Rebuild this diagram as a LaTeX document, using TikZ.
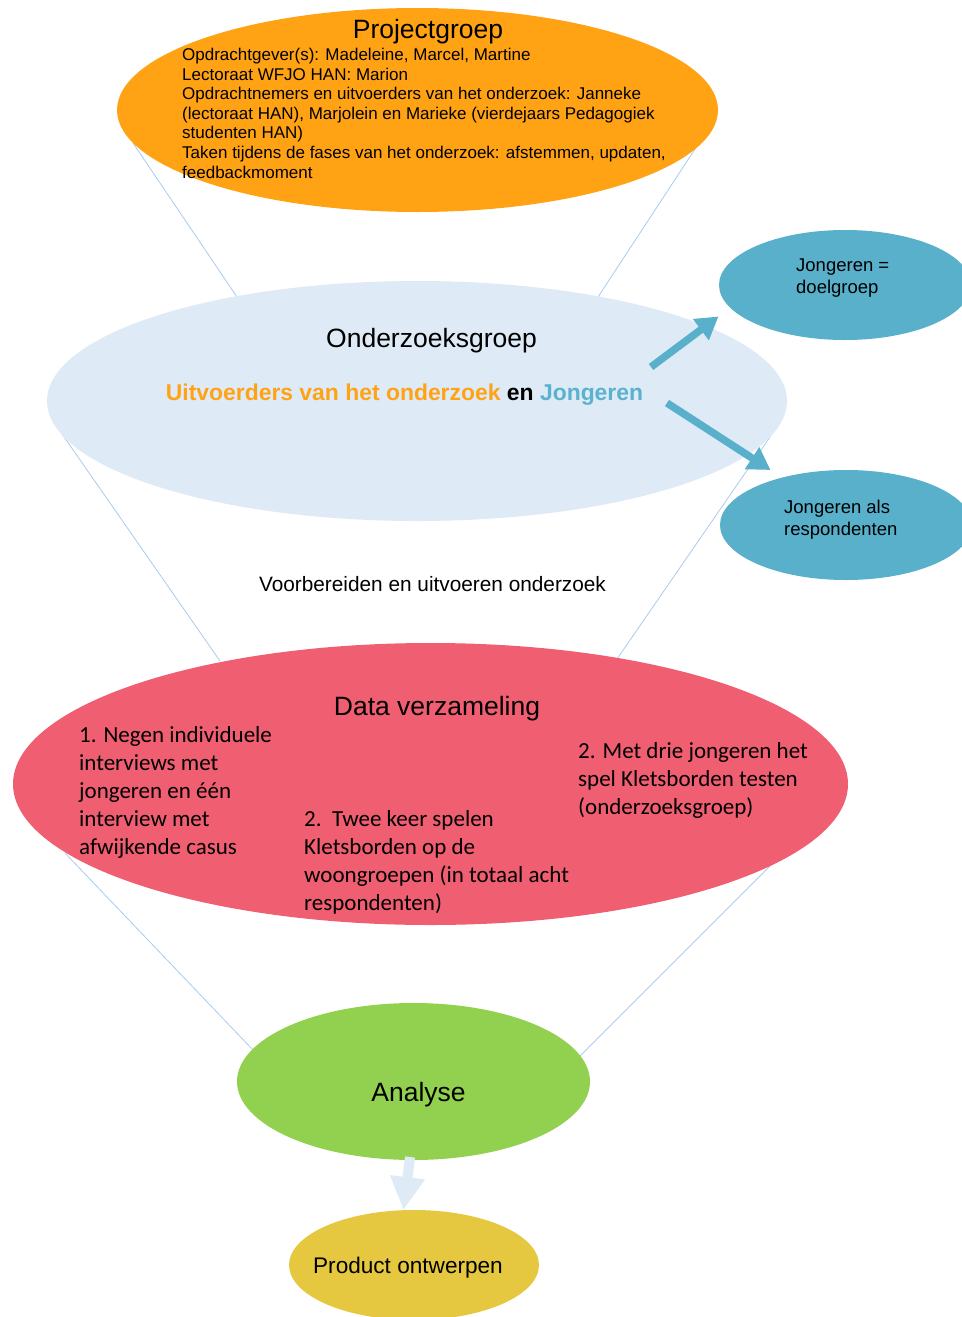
\documentclass[tikz,border=0pt]{standalone}
\usepackage{fontspec}
\setmainfont{Liberation Sans}
\newfontfamily\calibri{Carlito}
\usetikzlibrary{shapes.geometric,arrows.meta}
\definecolor{orangec}{RGB}{255,163,20}
\definecolor{paleblue}{RGB}{222,234,246}
\definecolor{tealc}{RGB}{88,176,203}
\definecolor{tealtext}{RGB}{90,178,206}
\definecolor{redc}{RGB}{240,94,113}
\definecolor{greenc}{RGB}{146,208,80}
\definecolor{yellowc}{RGB}{230,200,64}
\definecolor{funnelc}{RGB}{170,203,236}
\begin{document}
\begin{tikzpicture}[x=1pt,y=-1pt,
  blob/.style={ellipse, inner sep=0pt, draw=none},
  funnel/.style={draw=funnelc, line width=0.8pt},
  tealarrow/.style={draw=tealc, line width=7.5pt, -{Triangle[length=22pt,width=25pt]}},
  palearrow/.style={draw=paleblue, line width=10pt, -{Triangle[length=33pt,width=33pt]}},
  bigtitle/.style={inner sep=0pt, font=\fontsize{26.5}{30}\selectfont},
  bodytext/.style={inner sep=0pt, anchor=north west, align=left},
  calitext/.style={inner sep=0pt, anchor=north west, align=left, font=\calibri\fontsize{23}{28}\selectfont}
]
\useasboundingbox (0,0) rectangle (961,1317);

% funnel line end points
\coordinate (f1a) at (133,143); \coordinate (f1b) at (237,297);
\coordinate (f2a) at (697,146); \coordinate (f2b) at (598,297);
\coordinate (f3a) at (62,434);  \coordinate (f3b) at (220,661);
\coordinate (f4a) at (770,437); \coordinate (f4b) at (617,659);
\coordinate (f5a) at (65,853);  \coordinate (f5b) at (253,1050);
\coordinate (f6a) at (770,866); \coordinate (f6b) at (580,1056);
\draw[funnel] (f1a) -- (f1b);
\draw[funnel] (f2a) -- (f2b);
\draw[funnel] (f3a) -- (f3b);
\draw[funnel] (f4a) -- (f4b);
\draw[funnel] (f5a) -- (f5b);
\draw[funnel] (f6a) -- (f6b);

% ellipses
\node[blob, fill=orangec, minimum width=601pt, minimum height=204pt] (proj) at (417.5,110) {};
\node[blob, fill=paleblue, minimum width=740pt, minimum height=240pt] (onder) at (417,401) {};
\node[blob, fill=tealc, minimum width=252pt, minimum height=110pt] (doel) at (845,285) {};
\node[blob, fill=tealc, minimum width=252pt, minimum height=110pt] (resp) at (846,525) {};
\node[blob, fill=redc, minimum width=835pt, minimum height=282pt] (data) at (430.5,784) {};
\node[blob, fill=greenc, minimum width=353pt, minimum height=157pt] (ana) at (413.5,1081.5) {};
\node[blob, fill=yellowc, minimum width=250pt, minimum height=110pt] (prod) at (414,1265) {};

% arrows
\coordinate (a1s) at (651,367); \coordinate (a1e) at (718.5,316.5);
\coordinate (a2s) at (667,403); \coordinate (a2e) at (770.5,470);
\coordinate (a3s) at (410,1157); \coordinate (a3e) at (403.5,1210);
\draw[tealarrow] (a1s) -- (a1e);
\draw[tealarrow] (a2s) -- (a2e);
\draw[palearrow] (a3s) -- (a3e);

% texts
\node[bigtitle] (tproj) at (428,32) {Projectgroep};
\node[bodytext, font=\fontsize{17}{19.6}\selectfont] (tprojbody) at (182,48)
  {Opdrachtgever(s): Madeleine, Marcel, Martine\\
   Lectoraat WFJO HAN: Marion\\
   Opdrachtnemers en uitvoerders van het onderzoek: Janneke\\
   (lectoraat HAN), Marjolein en Marieke (vierdejaars Pedagogiek\\
   studenten HAN)\\
   Taken tijdens de fases van het onderzoek: afstemmen, updaten,\\
   feedbackmoment};
\node[bigtitle] (tonder) at (431.5,341) {Onderzoeksgroep};
\node[inner sep=0pt, font=\bfseries\fontsize{22.9}{26}\selectfont] (tuitv) at (404.5,395)
  {\textcolor{orangec}{Uitvoerders van het onderzoek} en \textcolor{tealtext}{Jongeren}};
\node[bodytext, font=\fontsize{18.5}{21.7}\selectfont] (tdoel) at (796,259) {Jongeren =\\doelgroep};
\node[bodytext, font=\fontsize{18.5}{21.7}\selectfont] (tresp) at (784,500) {Jongeren als\\respondenten};
\node[inner sep=0pt, font=\fontsize{20.8}{24}\selectfont] (tvoor) at (432.5,584) {Voorbereiden en uitvoeren onderzoek};
\node[bigtitle] (tdata) at (437,709) {Data verzameling};
\node[calitext] (tb1) at (79,726) {1. Negen individuele\\interviews met\\jongeren en één\\interview met\\afwijkende casus};
\node[calitext] (tb2) at (304,810) {2.\ \ Twee keer spelen\\Kletsborden op de\\woongroepen (in totaal acht\\respondenten)};
\node[calitext] (tb3) at (578,742) {2. Met drie jongeren het\\spel Kletsborden testen\\(onderzoeksgroep)};
\node[bigtitle] (tana) at (418.5,1095) {Analyse};
\node[inner sep=0pt, font=\fontsize{22.6}{26}\selectfont] (tprod) at (408,1268) {Product ontwerpen};
\end{tikzpicture}
\end{document}
